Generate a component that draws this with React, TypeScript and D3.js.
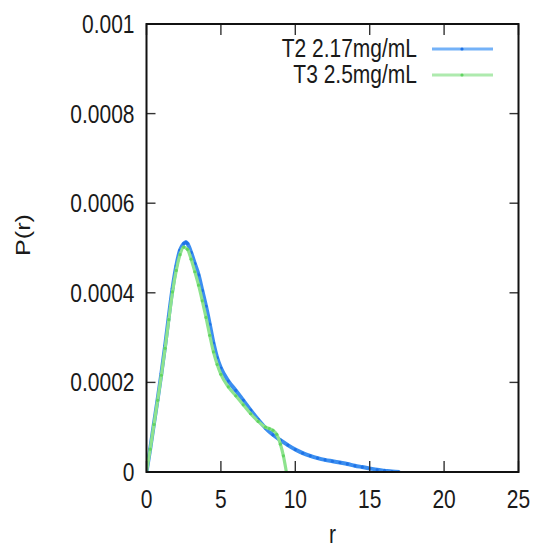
import React from 'react';
import * as d3 from 'd3';

// radius values and P(r)
const rT2 = [0, 0.25, 0.5, 0.75, 1, 1.25, 1.5, 1.75, 2, 2.25, 2.5, 2.65, 2.75, 3, 3.25, 3.5, 3.75, 4, 4.25, 4.5, 4.75, 5, 5.5, 6, 6.5, 7, 7.5, 8, 8.5, 9, 9.5, 10, 10.5, 11, 11.5, 12, 12.5, 13, 13.5, 14, 14.5, 15, 15.5, 16, 16.5, 17];
const pT2 = [0, 0.52e-4, 1.08e-4, 1.63e-4, 2.2e-4, 2.82e-4, 3.48e-4, 4.1e-4, 4.6e-4, 4.95e-4, 5.1e-4, 5.13e-4, 5.1e-4, 4.9e-4, 4.65e-4, 4.4e-4, 4.05e-4, 3.7e-4, 3.3e-4, 2.88e-4, 2.55e-4, 2.32e-4, 2.03e-4, 1.82e-4, 1.6e-4, 1.38e-4, 1.17e-4, 0.98e-4, 0.83e-4, 0.71e-4, 0.6e-4, 0.5e-4, 0.42e-4, 0.36e-4, 0.31e-4, 0.27e-4, 0.24e-4, 0.21e-4, 0.18e-4, 0.14e-4, 0.11e-4, 0.08e-4, 0.05e-4, 0.03e-4, 0.01e-4, 0];

const rT3 = [0, 0.25, 0.5, 0.75, 1, 1.25, 1.5, 1.75, 2, 2.25, 2.5, 2.75, 3, 3.25, 3.5, 3.75, 4, 4.25, 4.5, 4.75, 5, 5.5, 6, 6.5, 7, 7.5, 8, 8.25, 8.5, 8.75, 9, 9.2, 9.4];
const pT3 = [0, 0.51e-4, 1.06e-4, 1.6e-4, 2.16e-4, 2.76e-4, 3.4e-4, 4.02e-4, 4.5e-4, 4.85e-4, 5.02e-4, 4.97e-4, 4.75e-4, 4.47e-4, 4.17e-4, 3.82e-4, 3.45e-4, 3.05e-4, 2.68e-4, 2.4e-4, 2.18e-4, 1.9e-4, 1.7e-4, 1.5e-4, 1.3e-4, 1.13e-4, 1.0e-4, 0.97e-4, 0.93e-4, 0.84e-4, 0.62e-4, 0.36e-4, 0];

const xTicks = [0, 5, 10, 15, 20, 25];
const yTicks = [0, 0.0002, 0.0004, 0.0006, 0.0008, 0.001];
const yTickLabels = ['0', '0.0002', '0.0004', '0.0006', '0.0008', '0.001'];

const seriesNames = ['T2 2.17mg/mL', 'T3 2.5mg/mL'];

const W = 537;
const H = 547;
const left = 146.5, right = 518.5, top = 24, bottom = 472;
const font = '"Liberation Sans", Arial, Helvetica, sans-serif';
const stretch = 'scale(1,1.2)';

export default function App() {
  const x = d3.scaleLinear().domain([0, 25]).range([left, right]);
  const y = d3.scaleLinear().domain([0, 0.001]).range([bottom, top]);

  const line = d3.line<[number, number]>()
    .x((d) => x(d[0]))
    .y((d) => y(d[1]))
    .curve(d3.curveMonotoneX);

  const t2 = rT2.map((r, i) => [r, pT2[i]] as [number, number]);
  const t3 = rT3.map((r, i) => [r, pT3[i]] as [number, number]);

  const series = [
    { name: seriesNames[0], data: t2, color: '#3b8ef0', dot: '#1f72e6', width: 4, legend: '#74b2f8' },
    { name: seriesNames[1], data: t3, color: '#8ee38e', dot: '#62d462', width: 3.2, legend: '#aeeaae' },
  ];

  return (
    <div style={{ position: 'absolute', left: 0, top: 0 }}>
      <svg width={W} height={H} style={{ display: 'block', background: '#fff' }}>
        <defs>
          <clipPath id="plotclip">
            <rect x={left} y={top} width={right - left} height={bottom - top} />
          </clipPath>
        </defs>
        <g clipPath="url(#plotclip)">
          {series.map((s) => (
            <g key={s.name}>
              <path d={line(s.data) || ''} fill="none" stroke={s.color} strokeWidth={s.width} strokeLinejoin="round" />
              {s.data.map((d, i) => (
                <circle key={i} cx={x(d[0])} cy={y(d[1])} r={1.6} fill={s.dot} />
              ))}
            </g>
          ))}
        </g>

        {/* ticks, mirrored on every side */}
        {xTicks.map((t) => (
          <g key={'xt' + t} stroke="#333" strokeWidth={1.4}>
            <line x1={x(t)} x2={x(t)} y1={bottom} y2={bottom - 11} />
            <line x1={x(t)} x2={x(t)} y1={top} y2={top + 11} />
          </g>
        ))}
        {yTicks.map((t) => (
          <g key={'yt' + t} stroke="#333" strokeWidth={1.4}>
            <line x1={left} x2={left + 9} y1={y(t)} y2={y(t)} />
            <line x1={right} x2={right - 9} y1={y(t)} y2={y(t)} />
          </g>
        ))}
        <rect x={left} y={top} width={right - left} height={bottom - top} fill="none" stroke="#111" strokeWidth={2} />

        {xTicks.map((t) => (
          <text key={'xl' + t} transform={`translate(${x(t)},${bottom + 36}) ${stretch}`}
            textAnchor="middle" fontFamily={font} fontSize={21} fill="#1a1a1a">{t}</text>
        ))}
        {yTicks.map((t, i) => (
          <text key={'yl' + t} transform={`translate(${left - 12},${y(t) + 9}) ${stretch}`}
            textAnchor="end" fontFamily={font} fontSize={21} fill="#1a1a1a">{yTickLabels[i]}</text>
        ))}

        <text transform={`translate(${(left + right) / 2},543) ${stretch}`} textAnchor="middle"
          fontFamily={font} fontSize={21} fill="#1a1a1a">r</text>
        <text transform={`translate(30,235) rotate(-90) scale(1.2,1)`} textAnchor="middle"
          fontFamily={font} fontSize={21} fill="#1a1a1a">P(r)</text>

        {series.map((s, i) => {
          const ly = 49 + i * 26;
          return (
            <g key={'lg' + s.name}>
              <text transform={`translate(417,${ly + 8}) ${stretch}`} textAnchor="end"
                fontFamily={font} fontSize={21} fill="#1a1a1a">{s.name}</text>
              <line x1={432} x2={493} y1={ly} y2={ly} stroke={s.legend} strokeWidth={3} />
              <circle cx={462} cy={ly} r={1.6} fill={s.dot} />
            </g>
          );
        })}
      </svg>
    </div>
  );
}
